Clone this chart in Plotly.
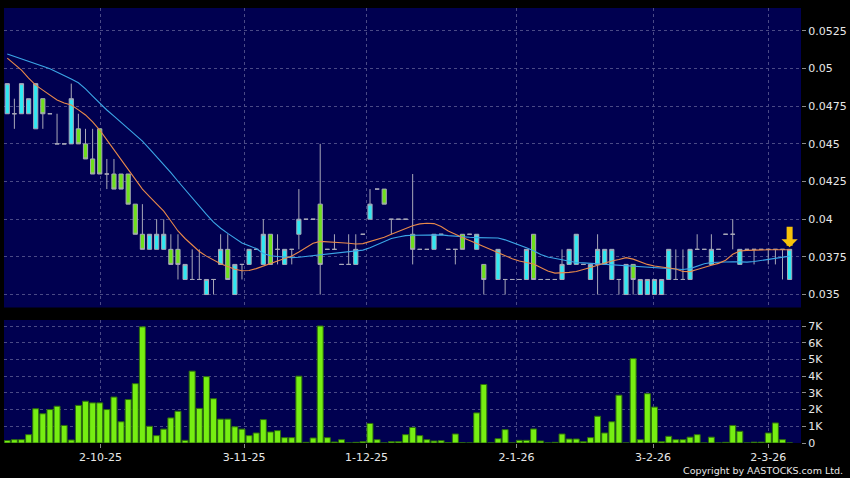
import plotly.graph_objects as go
from plotly.subplots import make_subplots

# daily OHLC (price in HKD), one entry per trading day, None = no candle
opens = [.047, .047, .047, .047, .046, .048, .047, .045, .045, .045,
         .046, .045, .044, .046, .043, .043, .043, .043, .041, .039,
         .038, .038, .038, .038, .038, .036, .036, .036, .035, .036,
         .037, .038, .035, .037, .037, .038, .037, .039, .038, .037,
         .038, .039, .040, .040, .041, .038, .038, .037, .037, .037,
         .039, .040, .042, .042, .040, .040, .040, .039, .038, .038,
         .038, .039, .038, .038, .039, .039, .038, .037, None, .036,
         .036, .036, .036, .036, .039, .036, .036, .036, .036, .037,
         .037, .037, .036, .037, .037, .036, .036, .035, .037, .035,
         .035, .035, .035, .036, .036, .036, .036, .038, .038, .037,
         .038, .039, .039, .037, .038, .038, .038, .038, .038, .038,
         .036]
highs = [.049, .048, .049, .048, .049, .048, .047, .047, .045, .049,
         .047, .046, .046, .046, .044, .044, .043, .043, .041, .041,
         .039, .040, .040, .039, .039, .037, .038, .038, .036, .036,
         .039, .039, .037, .037, .038, .038, .040, .039, .039, .038,
         .038, .042, .040, .040, .045, .038, .039, .037, .039, .039,
         .039, .042, .042, .042, .040, .040, .040, .043, .038, .038,
         .039, .039, .038, .038, .039, .039, .039, .037, None, .038,
         .036, .036, .036, .038, .039, .036, .036, .036, .038, .038,
         .039, .037, .037, .039, .038, .038, .036, .037, .037, .036,
         .036, .036, .036, .038, .038, .038, .038, .039, .038, .039,
         .038, .039, .040, .038, .038, .038, .038, .038, .038, .038,
         .038]
lows = [.047, .046, .047, .047, .046, .046, .047, .045, .045, .045,
        .045, .044, .043, .043, .042, .042, .042, .041, .039, .038,
        .038, .038, .038, .037, .036, .036, .036, .036, .035, .035,
        .037, .036, .035, .036, .037, .038, .037, .037, .037, .037,
        .037, .038, .040, .040, .035, .038, .038, .037, .037, .037,
        .039, .040, .042, .041, .039, .040, .040, .037, .038, .038,
        .038, .039, .038, .037, .038, .039, .038, .035, None, .036,
        .035, .036, .036, .036, .036, .036, .036, .036, .036, .037,
        .037, .037, .036, .035, .037, .036, .035, .035, .035, .035,
        .035, .035, .035, .036, .036, .036, .036, .038, .038, .037,
        .038, .039, .038, .037, .038, .037, .038, .037, .037, .036,
        .036]
closes = [.049, .047, .049, .048, .049, .047, .047, .045, .045, .048,
          .045, .044, .043, .043, .043, .042, .042, .041, .039, .038,
          .039, .039, .039, .037, .037, .037, .036, .036, .036, .036,
          .038, .036, .037, .037, .038, .038, .039, .037, .038, .038,
          .038, .040, .040, .040, .037, .038, .038, .037, .037, .038,
          .039, .041, .042, .041, .040, .040, .040, .038, .038, .038,
          .039, .039, .038, .038, .038, .039, .039, .036, None, .038,
          .036, .036, .036, .038, .036, .036, .036, .036, .037, .038,
          .039, .037, .037, .038, .038, .038, .036, .037, .036, .036,
          .036, .036, .036, .038, .036, .036, .038, .038, .038, .038,
          .038, .039, .039, .038, .038, .038, .038, .038, .038, .038,
          .038]

# volume in shares
volumes = [150, 200, 200, 500, 2050, 1750, 2000, 2200, 1050, 180,
           2250, 2500, 2400, 2400, 2000, 2750, 1270, 2600, 3550, 6950,
           1000, 440, 830, 1500, 1900, 160, 4300, 2070, 3970, 2650,
           1430, 1430, 970, 830, 440, 600, 1400, 660, 740, 320,
           320, 4000, 40, 300, 7000, 320, 60, 200, 0, 40,
           80, 1170, 200, 0, 80, 80, 500, 930, 440, 200,
           120, 140, 20, 540, 10, 0, 1800, 3500, 0, 260,
           800, 0, 160, 160, 840, 120, 0, 40, 540, 240,
           240, 80, 320, 1600, 600, 1270, 2860, 0, 5050, 200,
           2950, 2150, 80, 400, 200, 200, 350, 500, 0, 350,
           0, 40, 1050, 700, 0, 50, 50, 600, 1200, 200,
           0]

# moving averages
ma_short = [.05069, .05031, .04990, .04937, .04890, .04857, .04825, .04792, .04771, .04758,
            .04726, .04692, .04646, .04592, .04527, .04461, .04395, .04330, .04265, .04200,
            .04150, .04102, .04054, .03988, .03922, .03872, .03829, .03786, .03755, .03727,
            .03704, .03686, .03668, .03658, .03660, .03672, .03687, .03705, .03722, .03739,
            .03756, .03782, .03811, .03840, .03853, .03851, .03848, .03844, .03840, .03835,
            .03838, .03852, .03865, .03880, .03900, .03920, .03940, .03957, .03969, .03973,
            .03971, .03952, .03922, .03898, .03878, .03858, .03838, .03817, .03797, .03776,
            .03757, .03738, .03723, .03713, .03703, .03679, .03656, .03642, .03644, .03647,
            .03653, .03665, .03679, .03695, .03711, .03723, .03733, .03745, .03735, .03717,
            .03700, .03690, .03684, .03678, .03669, .03653, .03652, .03666, .03682, .03694,
            .03707, .03728, .03767, .03789, .03793, .03796, .03797, .03797, .03797, .03797,
            .03797]
ma_long = [.05096, .05081, .05066, .05049, .05033, .05016, .04998, .04977, .04954, .04930,
           .04906, .04865, .04817, .04769, .04725, .04684, .04644, .04603, .04563, .04518,
           .04467, .04416, .04365, .04309, .04252, .04196, .04139, .04085, .04032, .03981,
           .03940, .03906, .03872, .03842, .03824, .03805, .03772, .03757, .03753, .03749,
           .03745, .03748, .03753, .03757, .03762, .03767, .03771, .03776, .03781, .03787,
           .03795, .03810, .03831, .03853, .03872, .03882, .03891, .03894, .03895, .03897,
           .03898, .03896, .03891, .03886, .03882, .03880, .03878, .03878, .03876, .03875,
           .03863, .03847, .03830, .03810, .03790, .03766, .03749, .03739, .03730, .03720,
           .03713, .03710, .03707, .03703, .03700, .03698, .03695, .03692, .03689, .03686,
           .03682, .03678, .03674, .03670, .03668, .03666, .03672, .03689, .03705, .03713,
           .03716, .03719, .03718, .03717, .03715, .03719, .03726, .03733, .03739, .03747,
           .03755]

tick_pos = [13.1, 33.3, 50.5, 71.6, 90.8, 107.0]
tick_text = ["2-10-25", "3-11-25", "1-12-25", "2-1-26", "3-2-26", "2-3-26"]

price_ticks = [0.035, 0.0375, 0.04, 0.0425, 0.045, 0.0475, 0.05, 0.0525]
price_text = ["0.035", "0.0375", "0.04", "0.0425", "0.045", "0.0475", "0.05", "0.0525"]
vol_ticks = [0, 1000, 2000, 3000, 4000, 5000, 6000, 7000]
vol_text = ["0", "1K", "2K", "3K", "4K", "5K", "6K", "7K"]

days = list(range(len(closes)))

NAVY = "#000050"
GRID = "#4a4a86"
TXT = "#e8e8e8"
FONT = "DejaVu Sans"

fig = make_subplots(rows=2, cols=1, shared_xaxes=True, vertical_spacing=0.0)

fig.add_trace(go.Candlestick(
    x=days, open=opens, high=highs, low=lows, close=closes,
    increasing=dict(line=dict(color="#a8a8b8", width=1), fillcolor="#2ee8f2"),
    decreasing=dict(line=dict(color="#a8a8b8", width=1), fillcolor="#6ee01c"),
    whiskerwidth=0, showlegend=False, hoverinfo="skip",
), row=1, col=1)

fig.add_trace(go.Scatter(x=days, y=ma_long, mode="lines",
                         line=dict(color="#3ba6e6", width=1.1),
                         showlegend=False, hoverinfo="skip"), row=1, col=1)
fig.add_trace(go.Scatter(x=days, y=ma_short, mode="lines",
                         line=dict(color="#e8894a", width=1.1),
                         showlegend=False, hoverinfo="skip"), row=1, col=1)

fig.add_trace(go.Bar(x=days, y=volumes,
                     marker=dict(color="#76ee12", line=dict(color="#2d6e0c", width=1)),
                     showlegend=False, hoverinfo="skip"), row=2, col=1)

# marker arrow over the latest session
fig.add_annotation(x=days[-1], y=highs[-1], xref="x", yref="y",
                   text="", showarrow=True, ax=0, ay=-24,
                   arrowcolor="#f7c20a", arrowwidth=6, arrowhead=1, arrowsize=0.45,
                   standoff=2)

fig.add_annotation(text="Copyright by AASTOCKS.com Ltd.", xref="paper", yref="paper",
                   x=1.0552, y=-0.064, xanchor="right", yanchor="middle",
                   showarrow=False, font=dict(family=FONT, size=9.5, color=TXT))

axis_common = dict(showline=False, zeroline=False, gridcolor=GRID, griddash="3px,3px",
                   gridwidth=1, tickfont=dict(family=FONT, size=11, color=TXT))

fig.update_xaxes(range=[-0.46, 111.6], tickvals=tick_pos, ticktext=tick_text,
                 rangeslider_visible=False, showticklabels=False, ticks="",
                 **axis_common, row=1, col=1)
fig.update_xaxes(range=[-0.46, 111.6], tickvals=tick_pos, ticktext=tick_text,
                 ticks="outside", ticklen=4, tickcolor="#8a8a8a",
                 **axis_common, row=2, col=1)
fig.update_yaxes(range=[0.03414, 0.05402], side="right", tickvals=price_ticks,
                 ticktext=price_text, ticks="outside", ticklen=4, tickcolor="#8a8a8a",
                 domain=[0.3115, 1.0], **axis_common, row=1, col=1)
fig.update_yaxes(range=[0, 7360], side="right", tickvals=vol_ticks, ticktext=vol_text,
                 ticks="outside", ticklen=4, tickcolor="#8a8a8a",
                 domain=[0.0, 0.2828], **axis_common, row=2, col=1)

fig.update_layout(
    width=850, height=478,
    margin=dict(l=4, r=49, t=8, b=35),
    paper_bgcolor="black", plot_bgcolor=NAVY,
    bargap=0.16, boxgap=0.16,
    font=dict(family=FONT, size=11, color=TXT),
)

fig.write_html("out.html", config={"displayModeBar": False},
               post_script="document.body.style.margin='0';"
                           "document.body.style.background='black';")
